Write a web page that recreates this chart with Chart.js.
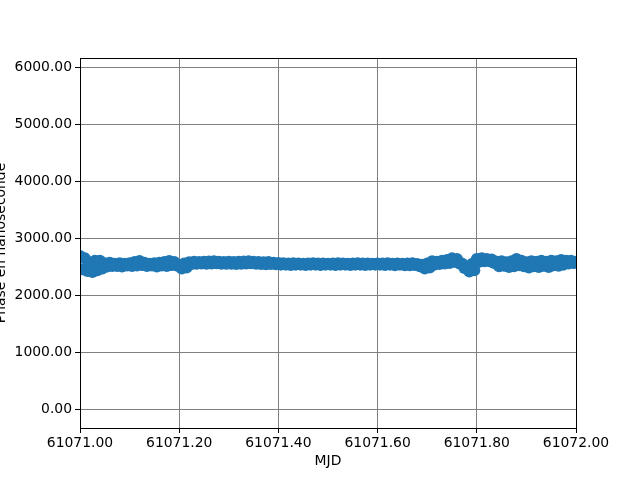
<!DOCTYPE html>
<html>
<head>
<meta charset="utf-8">
<script src="https://cdn.jsdelivr.net/npm/chart.js@4/dist/chart.umd.min.js"></script>
<style>
  body { margin: 0; background: #fff; }
  #wrap { width: 640px; height: 480px; }
</style>
</head>
<body>
<div id="wrap"><canvas id="chart" width="640" height="480"></canvas></div>
<script>
// MJD sample times
const mjd = [
  61071.000, 61071.005, 61071.010, 61071.015, 61071.020, 61071.025, 61071.030, 61071.035, 61071.040, 61071.045,
  61071.050, 61071.055, 61071.060, 61071.065, 61071.070, 61071.075, 61071.080, 61071.085, 61071.090, 61071.095,
  61071.100, 61071.105, 61071.110, 61071.115, 61071.120, 61071.125, 61071.130, 61071.135, 61071.140, 61071.145,
  61071.150, 61071.155, 61071.160, 61071.165, 61071.170, 61071.175, 61071.180, 61071.185, 61071.190, 61071.195,
  61071.200, 61071.205, 61071.210, 61071.215, 61071.220, 61071.225, 61071.230, 61071.235, 61071.240, 61071.245,
  61071.250, 61071.255, 61071.260, 61071.265, 61071.270, 61071.275, 61071.280, 61071.285, 61071.290, 61071.295,
  61071.300, 61071.305, 61071.310, 61071.315, 61071.320, 61071.325, 61071.330, 61071.335, 61071.340, 61071.345,
  61071.350, 61071.355, 61071.360, 61071.365, 61071.370, 61071.375, 61071.380, 61071.385, 61071.390, 61071.395,
  61071.400, 61071.405, 61071.410, 61071.415, 61071.420, 61071.425, 61071.430, 61071.435, 61071.440, 61071.445,
  61071.450, 61071.455, 61071.460, 61071.465, 61071.470, 61071.475, 61071.480, 61071.485, 61071.490, 61071.495,
  61071.500, 61071.505, 61071.510, 61071.515, 61071.520, 61071.525, 61071.530, 61071.535, 61071.540, 61071.545,
  61071.550, 61071.555, 61071.560, 61071.565, 61071.570, 61071.575, 61071.580, 61071.585, 61071.590, 61071.595,
  61071.600, 61071.605, 61071.610, 61071.615, 61071.620, 61071.625, 61071.630, 61071.635, 61071.640, 61071.645,
  61071.650, 61071.655, 61071.660, 61071.665, 61071.670, 61071.675, 61071.680, 61071.685, 61071.690, 61071.695,
  61071.700, 61071.705, 61071.710, 61071.715, 61071.720, 61071.725, 61071.730, 61071.735, 61071.740, 61071.745,
  61071.750, 61071.755, 61071.760, 61071.765, 61071.770, 61071.775, 61071.780, 61071.785, 61071.790, 61071.795,
  61071.800, 61071.805, 61071.810, 61071.815, 61071.820, 61071.825, 61071.830, 61071.835, 61071.840, 61071.845,
  61071.850, 61071.855, 61071.860, 61071.865, 61071.870, 61071.875, 61071.880, 61071.885, 61071.890, 61071.895,
  61071.900, 61071.905, 61071.910, 61071.915, 61071.920, 61071.925, 61071.930, 61071.935, 61071.940, 61071.945,
  61071.950, 61071.955, 61071.960, 61071.965, 61071.970, 61071.975, 61071.980, 61071.985, 61071.990, 61071.995,
  61072.000
];

// phase (ns)
const phase = [
  2690, 2460, 2650, 2430, 2560, 2410, 2610, 2440, 2610, 2470,
  2565, 2505, 2575, 2515, 2555, 2515, 2565, 2505, 2555, 2525,
  2565, 2515, 2585, 2525, 2605, 2535, 2575, 2515, 2555, 2525,
  2565, 2505, 2575, 2525, 2585, 2515, 2605, 2535, 2585, 2525,
  2520, 2470, 2560, 2490, 2580, 2550, 2590, 2555, 2585, 2560,
  2590, 2555, 2595, 2560, 2600, 2565, 2590, 2555, 2585, 2555,
  2590, 2555, 2585, 2550, 2590, 2555, 2595, 2560, 2600, 2565,
  2590, 2555, 2585, 2550, 2580, 2545, 2585, 2550, 2575, 2545,
  2570, 2540, 2565, 2540, 2560, 2535, 2565, 2540, 2560, 2540,
  2555, 2535, 2560, 2540, 2565, 2540, 2560, 2535, 2560, 2540,
  2555, 2540, 2560, 2535, 2565, 2540, 2560, 2540, 2555, 2535,
  2560, 2540, 2565, 2540, 2560, 2535, 2560, 2540, 2555, 2540,
  2560, 2540, 2560, 2535, 2565, 2540, 2555, 2530, 2560, 2540,
  2555, 2530, 2560, 2530, 2565, 2535, 2550, 2510, 2540, 2470,
  2560, 2490, 2600, 2540, 2590, 2550, 2610, 2560, 2620, 2570,
  2650, 2590, 2640, 2560, 2560, 2480, 2470, 2420, 2550, 2440,
  2640, 2590, 2650, 2600, 2640, 2600, 2630, 2570, 2590, 2510,
  2600, 2520, 2580, 2500, 2600, 2510, 2640, 2530, 2610, 2510,
  2580, 2490, 2600, 2510, 2590, 2500, 2610, 2520, 2590, 2500,
  2610, 2530, 2600, 2520, 2620, 2540, 2610, 2560, 2610, 2570,
  2590
];

const xTicks = [61071.0, 61071.2, 61071.4, 61071.6, 61071.8, 61072.0];
const yTicks = [0, 1000, 2000, 3000, 4000, 5000, 6000];

const font = { family: 'DejaVu Sans', size: 13.9 };
Chart.defaults.color = '#000';

const framePlugin = {
  id: 'frame',
  afterDraw(chart) {
    const { ctx, chartArea: a } = chart;
    ctx.save();
    ctx.strokeStyle = '#000';
    ctx.lineWidth = 1;
    ctx.strokeRect(Math.round(a.left) + 0.5, Math.round(a.top) + 0.5,
      Math.round(a.right - a.left), Math.round(a.bottom - a.top));
    ctx.restore();
  }
};

new Chart(document.getElementById('chart'), {
  type: 'scatter',
  data: {
    datasets: [{
      data: mjd.map((x, i) => ({ x: x, y: phase[i] })),
      backgroundColor: '#1f77b4',
      borderColor: '#1f77b4',
      borderWidth: 0,
      pointRadius: 6,
      pointHoverRadius: 6
    }]
  },
  options: {
    responsive: false,
    animation: false,
    layout: { padding: { left: 0, top: 58, right: 64, bottom: 0 } },
    plugins: { legend: { display: false }, tooltip: { enabled: false } },
    scales: {
      x: {
        type: 'linear',
        min: 61071.0,
        max: 61072.0,
        afterBuildTicks: s => { s.ticks = xTicks.map(v => ({ value: v })); },
        afterFit: s => { s.height = 52; },
        grid: { color: '#808080', tickColor: '#000', tickLength: 5, lineWidth: 1 },
        border: { color: '#000' },
        ticks: { font: font, padding: 2, maxRotation: 0, callback: v => v.toFixed(2) },
        title: { display: true, text: 'MJD', font: font, padding: { top: 0, bottom: 10 } }
      },
      y: {
        min: -330,
        max: 6170,
        afterBuildTicks: s => { s.ticks = yTicks.map(v => ({ value: v })); },
        afterFit: s => { s.width = 80; },
        grid: { color: '#808080', tickColor: '#000', tickLength: 5, lineWidth: 1 },
        border: { color: '#000' },
        ticks: { font: font, padding: 3, callback: v => v.toFixed(2) },
        title: { display: true, text: 'Phase en nanoseconde', font: font, padding: { top: -7, bottom: 0 } }
      }
    }
  },
  plugins: [framePlugin]
});
</script>
</body>
</html>
